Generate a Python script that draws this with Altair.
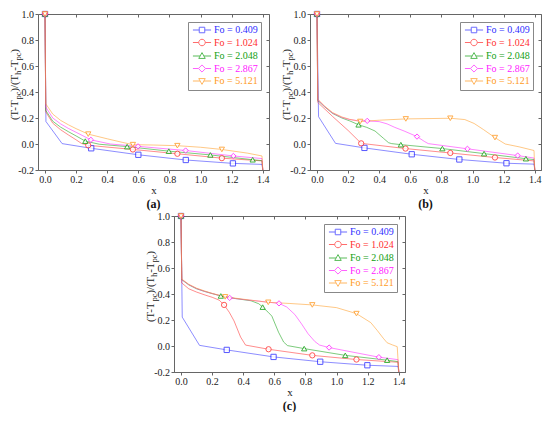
import altair as alt
import pandas as pd

LABELS = ["Fo = 0.409", "Fo = 1.024", "Fo = 2.048", "Fo = 2.867", "Fo = 5.121"]
COLORS = ["#2f2fff", "#ff2f2f", "#12a012", "#ff20ff", "#ff9a22"]
SHAPES = ["square", "circle", "triangle-up", "diamond", "triangle-down"]
X_TICKS = [0, 0.2, 0.4, 0.6, 0.8, 1.0, 1.2, 1.4]
Y_TICKS = [-0.2, 0, 0.2, 0.4, 0.6, 0.8, 1.0]

# ---------------- panel (a) curves ----------------
a409_x = [0, 0.006, 0.11, 0.297, 0.6, 0.905, 1.208, 1.395, 1.4]
a409_y = [1.0, 0.173, 0.003, -0.033, -0.083, -0.123, -0.149, -0.157, -0.2]
a1024_x = [0, 0.005, 0.05, 0.1, 0.15, 0.2, 0.235, 0.278, 0.565, 0.851, 1.137, 1.395, 1.4]
a1024_y = [1.0, 0.247, 0.16, 0.11, 0.07, 0.032, 0.004, -0.01, -0.042, -0.075, -0.109, -0.13, -0.2]
a2048_x = [0, 0.005, 0.05, 0.1, 0.15, 0.2, 0.259, 0.35, 0.528, 0.796, 1.063, 1.335, 1.395, 1.4]
a2048_y = [1.0, 0.259, 0.175, 0.13, 0.095, 0.062, 0.022, -0.002, -0.02, -0.055, -0.084, -0.121, -0.128, -0.2]
a2867_x = [0, 0.005, 0.05, 0.1, 0.15, 0.2, 0.295, 0.42, 0.598, 0.904, 1.211, 1.395, 1.4]
a2867_y = [1.0, 0.284, 0.2, 0.155, 0.12, 0.09, 0.032, 0.0, -0.018, -0.05, -0.092, -0.112, -0.2]
a5121_x = [0, 0.005, 0.05, 0.1, 0.15, 0.2, 0.278, 0.4, 0.5, 0.565, 0.7, 0.851, 1.0, 1.137, 1.3, 1.395, 1.4]
a5121_y = [1.0, 0.309, 0.23, 0.182, 0.148, 0.118, 0.076, 0.04, 0.012, -0.005, -0.008, -0.013, -0.025, -0.042, -0.07, -0.092, -0.2]
# panel (a) markers
am409_x = [0, 0.297, 0.6, 0.905, 1.208]
am409_y = [1.0, -0.033, -0.083, -0.123, -0.149]
am1024_x = [0, 0.278, 0.565, 0.851, 1.137]
am1024_y = [1.0, -0.01, -0.042, -0.075, -0.109]
am2048_x = [0, 0.259, 0.528, 0.796, 1.063, 1.335]
am2048_y = [1.0, 0.022, -0.02, -0.055, -0.084, -0.121]
am2867_x = [0, 0.295, 0.598, 0.904, 1.211]
am2867_y = [1.0, 0.032, -0.018, -0.05, -0.092]
am5121_x = [0, 0.278, 0.565, 0.851, 1.137]
am5121_y = [1.0, 0.076, -0.005, -0.013, -0.042]

# ---------------- panel (b) curves ----------------
b409_x = [0, 0.01, 0.119, 0.305, 0.609, 0.915, 1.218, 1.395, 1.4]
b409_y = [1.0, 0.21, 0.005, -0.03, -0.079, -0.119, -0.148, -0.155, -0.2]
b1024_x = [0, 0.005, 0.1, 0.2, 0.284, 0.569, 0.857, 1.144, 1.395, 1.4]
b1024_y = [1.0, 0.32, 0.212, 0.104, 0.005, -0.035, -0.069, -0.104, -0.13, -0.2]
b2048_x = [0, 0.005, 0.05, 0.1, 0.16, 0.21, 0.267, 0.32, 0.373, 0.426, 0.46, 0.48, 0.539, 0.806, 1.074, 1.343, 1.395, 1.4]
b2048_y = [1.0, 0.335, 0.285, 0.235, 0.2, 0.178, 0.148, 0.128, 0.1, 0.045, 0.01, 0.003, -0.005, -0.035, -0.074, -0.113, -0.12, -0.2]
b2867_x = [0, 0.005, 0.05, 0.1, 0.16, 0.21, 0.26, 0.323, 0.4, 0.45, 0.5, 0.56, 0.643, 0.69, 0.715, 0.967, 1.29, 1.395, 1.4]
b2867_y = [1.0, 0.34, 0.287, 0.238, 0.205, 0.188, 0.18, 0.178, 0.172, 0.155, 0.128, 0.1, 0.057, 0.02, 0.003, -0.037, -0.089, -0.108, -0.2]
b5121_x = [0, 0.005, 0.05, 0.1, 0.16, 0.21, 0.278, 0.4, 0.571, 0.857, 0.95, 1.01, 1.07, 1.144, 1.21, 1.3, 1.395, 1.4]
b5121_y = [1.0, 0.345, 0.29, 0.242, 0.208, 0.19, 0.173, 0.183, 0.193, 0.198, 0.188, 0.158, 0.111, 0.049, 0.0, -0.022, -0.05, -0.2]
# panel (b) markers
bm409_x = [0, 0.305, 0.609, 0.915, 1.218]
bm409_y = [1.0, -0.03, -0.079, -0.119, -0.148]
bm1024_x = [0, 0.284, 0.569, 0.857, 1.144]
bm1024_y = [1.0, 0.005, -0.035, -0.069, -0.104]
bm2048_x = [0, 0.267, 0.539, 0.806, 1.074, 1.343]
bm2048_y = [1.0, 0.148, -0.005, -0.035, -0.074, -0.113]
bm2867_x = [0, 0.323, 0.643, 0.967, 1.29]
bm2867_y = [1.0, 0.178, 0.057, -0.037, -0.089]
bm5121_x = [0, 0.278, 0.571, 0.857, 1.144]
bm5121_y = [1.0, 0.173, 0.193, 0.198, 0.049]

# ---------------- panel (c) curves ----------------
c409_x = [0, 0.008, 0.119, 0.294, 0.595, 0.895, 1.198, 1.395, 1.4]
c409_y = [1.0, 0.222, 0.005, -0.03, -0.084, -0.121, -0.148, -0.157, -0.2]
c1024_x = [0, 0.005, 0.05, 0.1, 0.16, 0.2, 0.245, 0.277, 0.31, 0.341, 0.383, 0.415, 0.563, 0.844, 1.128, 1.395, 1.4]
c1024_y = [1.0, 0.485, 0.44, 0.415, 0.39, 0.375, 0.353, 0.316, 0.26, 0.193, 0.069, 0.007, -0.025, -0.072, -0.104, -0.125, -0.2]
c2048_x = [0, 0.005, 0.05, 0.1, 0.15, 0.2, 0.256, 0.35, 0.45, 0.5, 0.525, 0.56, 0.584, 0.627, 0.66, 0.685, 0.792, 1.056, 1.325, 1.395, 1.4]
c2048_y = [1.0, 0.51, 0.47, 0.44, 0.42, 0.403, 0.385, 0.365, 0.348, 0.325, 0.299, 0.26, 0.23, 0.106, 0.03, 0.003, -0.02, -0.072, -0.109, -0.12, -0.2]
c2867_x = [0, 0.005, 0.05, 0.1, 0.15, 0.2, 0.25, 0.313, 0.4, 0.5, 0.63, 0.68, 0.732, 0.775, 0.817, 0.86, 0.891, 0.952, 1.272, 1.395, 1.4]
c2867_y = [1.0, 0.512, 0.472, 0.442, 0.421, 0.404, 0.388, 0.37, 0.358, 0.345, 0.328, 0.3, 0.242, 0.17, 0.094, 0.035, 0.007, -0.012, -0.086, -0.105, -0.2]
c5121_x = [0, 0.005, 0.05, 0.1, 0.15, 0.2, 0.284, 0.4, 0.561, 0.7, 0.844, 1.0, 1.128, 1.22, 1.262, 1.3, 1.325, 1.36, 1.39, 1.4]
c5121_y = [1.0, 0.515, 0.475, 0.445, 0.424, 0.405, 0.378, 0.36, 0.336, 0.327, 0.316, 0.295, 0.249, 0.18, 0.119, 0.06, 0.025, 0.008, -0.005, -0.2]
# panel (c) markers
cm409_x = [0, 0.294, 0.595, 0.895, 1.198]
cm409_y = [1.0, -0.03, -0.084, -0.121, -0.148]
cm1024_x = [0, 0.277, 0.563, 0.844, 1.128]
cm1024_y = [1.0, 0.316, -0.025, -0.072, -0.104]
cm2048_x = [0, 0.256, 0.525, 0.792, 1.056, 1.325]
cm2048_y = [1.0, 0.385, 0.299, -0.02, -0.072, -0.109]
cm2867_x = [0, 0.313, 0.63, 0.952, 1.272]
cm2867_y = [1.0, 0.37, 0.328, -0.012, -0.086]
cm5121_x = [0, 0.284, 0.561, 0.844, 1.128]
cm5121_y = [1.0, 0.378, 0.336, 0.316, 0.249]

# ---------------- layout / style ----------------
W, H = 231, 156
FONT = "Liberation Serif"
GRAY = "#666666"

LEG_PATHS = [
    "M-2.8,0H-0.85M0.85,0H2.8M-0.85,-0.85H0.85V0.85H-0.85Z",
    "M-2.8,0H-1M1,0H2.8M-1,0A1,1 0 1,1 1,0A1,1 0 1,1 -1,0Z",
    "M-2.8,0H-0.58M0.58,0H2.8M0,-1.05L1,0.75L-1,0.75Z",
    "M-2.8,0H-1.1M1.1,0H2.8M0,-1.1L1.1,0L0,1.1L-1.1,0Z",
    "M-2.8,0H-0.58M0.58,0H2.8M0,1.05L1,-0.75L-1,-0.75Z",
]


def table(xs, ys):
    rows = []
    for lab, xl, yl in zip(LABELS, xs, ys):
        for i, (a, b) in enumerate(zip(xl, yl)):
            rows.append({"Fo": lab, "x": a, "y": b, "i": i})
    return pd.DataFrame(rows)


label_color_expr = " : ".join(
    f"datum.label === '{l}' ? '{c}'" for l, c in zip(LABELS, COLORS)
) + " : '#000'"

MINUS = "\u2212"
X_LABEL_EXPR = "format(datum.value, '.1f')"
Y_LABEL_EXPR = f"replace(format(datum.value, '.1f'), '{MINUS}', '-')"

CW = {"(": 0.333, ")": 0.333, "T": 0.611, "-": 0.333, "/": 0.278,
      "p": 0.5, "c": 0.444, "h": 0.5, " ": 0.25}
MAIN_FS, SUB_FS = 11, 8
PIECES = [("(T-T", False), ("pc", True), (")/(T", False), ("h", True),
          ("-T", False), ("pc", True), (" )", False)]
ONE = pd.DataFrame({"k": [0]})


def ytitle_layers():
    layers = []
    pos = 0.0
    start = H * 0.68
    for txt, sub in PIECES:
        fs = SUB_FS if sub else MAIN_FS
        layers.append(
            alt.Chart(ONE).mark_text(
                text=txt, angle=270, align="left", baseline="alphabetic",
                fontSize=fs, font=FONT, color="#222222"
            ).encode(x=alt.value(-20 + (2.6 if sub else 0)), y=alt.value(start - pos))
        )
        pos += sum(CW[ch] for ch in txt) * fs
    return layers


def panel(lines_df, marks_df, tag):
    xs = alt.Scale(domain=[-0.045, 1.44], nice=False, zero=False)
    ys = alt.Scale(domain=[-0.2, 1.0], nice=False, zero=False)
    cscale = alt.Scale(domain=LABELS, range=COLORS)
    lines = alt.Chart(lines_df).mark_line(strokeWidth=1, opacity=0.55).encode(
        x=alt.X("x:Q", scale=xs, axis=alt.Axis(values=X_TICKS, title="x", labelExpr=X_LABEL_EXPR,
                                               labelFlush=False, titlePadding=0)),
        y=alt.Y("y:Q", scale=ys, axis=alt.Axis(values=Y_TICKS, title=None, labelExpr=Y_LABEL_EXPR,
                                               labelFlush=False)),
        color=alt.Color("Fo:N", scale=cscale, legend=None),
        detail="Fo:N",
    )
    pts = alt.Chart(marks_df).mark_point(filled=False, fill="white", fillOpacity=1,
                                         size=28, strokeWidth=1, opacity=0.8).encode(
        x=alt.X("x:Q", scale=xs, axis=alt.Axis(orient="bottom", offset=-H, values=X_TICKS, labels=False,
                                               domain=False, title=None)),
        y=alt.Y("y:Q", scale=ys, axis=alt.Axis(orient="left", offset=-W, values=Y_TICKS, labels=False,
                                               domain=False, title=None)),
        color=alt.Color("Fo:N", scale=cscale, legend=None),
        shape=alt.Shape("Fo:N", scale=alt.Scale(domain=LABELS, range=SHAPES), legend=None),
    )
    leg_def = alt.Legend(
        title=None, orient="top-right", offset=8, padding=3, strokeColor="#888888",
        fillColor="white", labelFont=FONT, labelFontSize=10,
        labelColor=alt.ExprRef(expr=label_color_expr),
        symbolSize=42, symbolStrokeWidth=1, symbolOffset=6, labelOffset=7, rowPadding=1.5,
    )
    leg = alt.Chart(marks_df).transform_filter("false").mark_point(
        filled=False, size=42, strokeWidth=1
    ).encode(
        color=alt.Color("Fo:N", scale=cscale, legend=leg_def),
        shape=alt.Shape("Fo:N", scale=alt.Scale(domain=LABELS, range=LEG_PATHS), legend=leg_def),
    )
    return alt.layer(lines, pts, leg, *ytitle_layers()).resolve_scale(
        color="independent", shape="independent"
    ).resolve_axis(x="independent", y="independent").properties(
        width=W, height=H,
        title=alt.TitleParams(tag, orient="bottom", anchor="middle", frame="group",
                              fontSize=12, fontWeight="bold", font=FONT, color="#111111", offset=3),
    )


pa = panel(table([a409_x, a1024_x, a2048_x, a2867_x, a5121_x], [a409_y, a1024_y, a2048_y, a2867_y, a5121_y]),
           table([am409_x, am1024_x, am2048_x, am2867_x, am5121_x], [am409_y, am1024_y, am2048_y, am2867_y, am5121_y]),
           "(a)")
pb = panel(table([b409_x, b1024_x, b2048_x, b2867_x, b5121_x], [b409_y, b1024_y, b2048_y, b2867_y, b5121_y]),
           table([bm409_x, bm1024_x, bm2048_x, bm2867_x, bm5121_x], [bm409_y, bm1024_y, bm2048_y, bm2867_y, bm5121_y]),
           "(b)")
pc = panel(table([c409_x, c1024_x, c2048_x, c2867_x, c5121_x], [c409_y, c1024_y, c2048_y, c2867_y, c5121_y]),
           table([cm409_x, cm1024_x, cm2048_x, cm2867_x, cm5121_x], [cm409_y, cm1024_y, cm2048_y, cm2867_y, cm5121_y]),
           "(c)")

chart = alt.vconcat(
    alt.hconcat(pa, pb, spacing=10),
    pc,
    spacing=0,
    center=True,
).properties(padding=0).configure(font=FONT).configure_view(
    stroke=GRAY, strokeWidth=1
).configure_axis(
    labelFont=FONT, labelFontSize=10, labelColor="#222222", tickColor=GRAY, domainColor=GRAY,
    tickSize=3, labelPadding=1.5, grid=False, titleFont=FONT, titleFontSize=11,
    titleFontWeight="normal", titleColor="#222222",
)

chart.save("out.html", embed_options={"renderer": "svg", "actions": False})
